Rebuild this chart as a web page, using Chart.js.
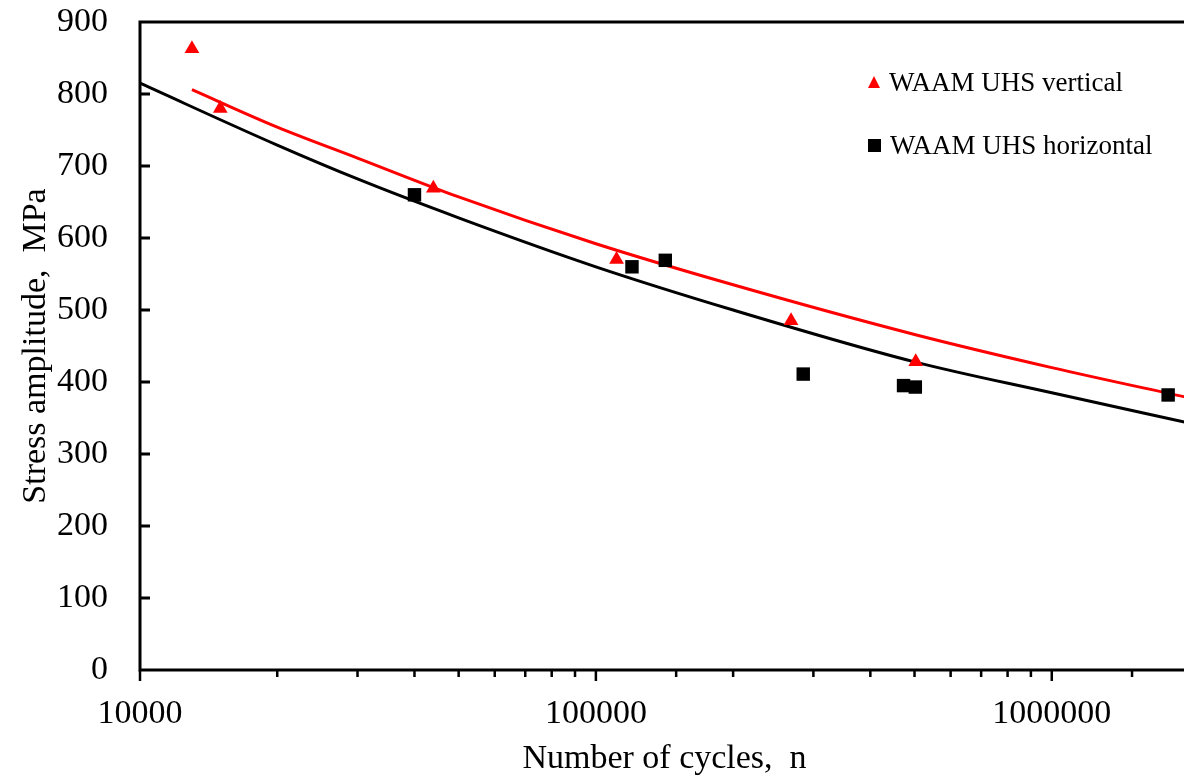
<!DOCTYPE html>
<html>
<head>
  <meta charset="utf-8">
  <title>S-N curve WAAM UHS</title>
  <script src="https://cdn.jsdelivr.net/npm/chart.js"></script>
  <style>
    html, body {
      margin: 0;
      padding: 0;
      background: white;
      overflow: hidden;
      font-family: 'Liberation Serif', serif;
    }

    .wrap {
      position: relative;
      width: 1200px;
      height: 776px;
    }

    .legend {
      position: absolute;
      left: 868px;
      top: 0;
      font-size: 27px;
      color: #000;
      line-height: 30px;
    }

    .legend .row {
      position: absolute;
      white-space: nowrap;
      display: flex;
      align-items: center;
    }

    .tri {
      width: 0;
      height: 0;
      border-left: 6.5px solid transparent;
      border-right: 6.5px solid transparent;
      border-bottom: 12px solid #ff0000;
      margin-right: 9px;
    }

    .sq {
      width: 13px;
      height: 13px;
      background: #000;
      margin-right: 9px;
    }
  </style>
</head>
<body>

<div class="wrap">
  <canvas id="snChart"></canvas>
  <div class="legend">
    <div class="row" style="top: 67px;"><span class="tri"></span>WAAM UHS vertical</div>
    <div class="row" style="top: 130px;"><span class="sq"></span>WAAM UHS horizontal</div>
  </div>
</div>

<script>
  // test points (cycles, stress amplitude MPa)
  const vertCycles = [13000, 15000, 44000, 111000, 268000, 503000];
  const vertStress = [863, 780, 669, 570, 485, 428];

  const horCycles = [40000, 120000, 142000, 285000, 473000, 502000, 1800000];
  const horStress = [660, 560, 569, 411, 395, 393, 382];

  // trend lines
  const vertFitCycles = [13000, 20000, 30000, 50000, 100000, 200000, 500000, 1000000, 2000000];
  const vertFitStress = [806, 754, 711, 657, 592, 535, 466, 420, 378];

  const horFitCycles = [10000, 20000, 30000, 50000, 100000, 200000, 500000, 1000000, 2000000];
  const horFitStress = [815, 729, 682, 628, 560, 500, 428, 385, 343];

  const toPoints = (xs, ys) => xs.map((x, i) => ({ x: x, y: ys[i] }));

  const isDecade = v => {
    const l = Math.log10(v);
    return Math.abs(l - Math.round(l)) < 1e-9;
  };

  // frame + inward y ticks + outward x ticks
  const axisMarks = {
    id: 'axisMarks',
    afterDatasetsDraw(chart) {
      const { ctx, chartArea: a, scales } = chart;
      const x = scales.x, y = scales.y;
      ctx.save();
      ctx.strokeStyle = '#000';
      ctx.lineWidth = 3;
      ctx.beginPath();
      ctx.moveTo(a.left, a.bottom);
      ctx.lineTo(a.left, a.top);
      ctx.lineTo(a.right + 5, a.top);
      ctx.moveTo(a.left - 1.5, a.bottom);
      ctx.lineTo(a.right + 5, a.bottom);
      y.ticks.forEach((t, i) => {
        const py = y.getPixelForTick(i);
        ctx.moveTo(a.left, py);
        ctx.lineTo(a.left + 10, py);
      });
      ctx.stroke();
      ctx.beginPath();
      ctx.lineWidth = 2.5;
      x.ticks.forEach((t, i) => {
        const px = x.getPixelForTick(i);
        const len = isDecade(t.value) ? 11 : 7;
        ctx.moveTo(px, a.bottom);
        ctx.lineTo(px, a.bottom + len);
      });
      ctx.stroke();
      ctx.restore();
    }
  };

  const serif = "'Liberation Serif', 'Times New Roman', serif";
  // invisible tick marks only used to push labels away from the axis
  const spacer = len => ({
    display: true,
    drawOnChartArea: false,
    drawTicks: true,
    tickLength: len,
    tickColor: 'rgba(0,0,0,0)',
    color: 'rgba(0,0,0,0)'
  });

  new Chart(document.getElementById('snChart'), {
    type: 'scatter',
    data: {
      datasets: [
        {
          label: 'WAAM UHS vertical',
          data: toPoints(vertCycles, vertStress),
          pointStyle: 'triangle',
          pointRadius: 8.5,
          backgroundColor: '#ff0000',
          borderColor: '#ff0000',
          borderWidth: 0,
          order: 0
        },
        {
          label: 'WAAM UHS horizontal',
          data: toPoints(horCycles, horStress),
          pointStyle: 'rect',
          pointRadius: 9.5,
          backgroundColor: '#000',
          borderColor: '#000',
          borderWidth: 0,
          order: 1
        },
        {
          label: 'fit vertical',
          data: toPoints(vertFitCycles, vertFitStress),
          showLine: true,
          pointRadius: 0,
          borderColor: '#ff0000',
          borderWidth: 3,
          cubicInterpolationMode: 'monotone',
          order: 2
        },
        {
          label: 'fit horizontal',
          data: toPoints(horFitCycles, horFitStress),
          showLine: true,
          pointRadius: 0,
          borderColor: '#000',
          borderWidth: 3,
          cubicInterpolationMode: 'monotone',
          order: 3
        }
      ]
    },
    options: {
      responsive: true,
      maintainAspectRatio: false,
      animation: false,
      layout: { padding: { top: 22, right: 11, left: 0, bottom: 0 } },
      plugins: {
        legend: { display: false },
        tooltip: { enabled: false }
      },
      scales: {
        x: {
          type: 'logarithmic',
          min: 10000,
          max: 2000000,
          grid: spacer(24),
          border: { display: false },
          afterFit: s => { s.height = 106; },
          ticks: {
            autoSkip: false,
            maxRotation: 0,
            padding: 0,
            color: '#000',
            font: { family: serif, size: 34 },
            callback: v => isDecade(v) ? String(Math.round(v)) : ''
          },
          title: {
            display: true,
            text: 'Number of cycles,  n',
            color: '#000',
            font: { family: serif, size: 34 },
            padding: { top: 0, bottom: -3 }
          }
        },
        y: {
          min: 0,
          max: 900,
          grid: spacer(32),
          border: { display: false },
          afterFit: s => { s.width = 140; },
          ticks: {
            stepSize: 100,
            padding: 0,
            color: '#000',
            font: { family: serif, size: 34 }
          },
          title: {
            display: true,
            text: 'Stress amplitude,  MPa',
            color: '#000',
            font: { family: serif, size: 34 },
            padding: { top: 16, bottom: 0 }
          }
        }
      }
    },
    plugins: [axisMarks]
  });
</script>

</body>
</html>
